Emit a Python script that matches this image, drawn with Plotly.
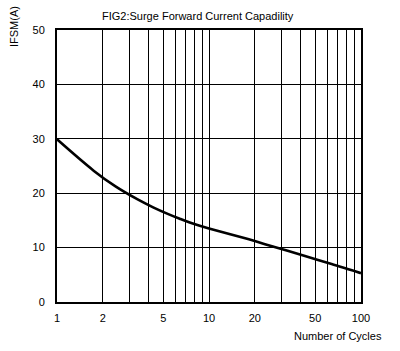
import plotly.graph_objects as go

cycles = [1, 1.75, 2.44, 3.37, 4.29, 5.35, 6.42, 7.47, 8.69, 10.0, 17.3, 24.3, 32.9, 42.8, 53.5, 64.1, 73.1, 86.0, 100]
ifsm = [29.9, 24.1, 21.2, 18.9, 17.4, 16.2, 15.3, 14.6, 14.0, 13.5, 11.7, 10.5, 9.4, 8.45, 7.65, 7.0, 6.5, 5.9, 5.3]

grid_vals = [1, 2, 3, 4, 5, 6, 7, 8, 9, 10, 20, 30, 40, 50, 60, 70, 80, 90, 100]
grid_text = ['1', '2', '', '', '5', '', '', '', '', '10', '20', '', '', '50', '', '', '', '', '100']
y_ticks = [0, 10, 20, 30, 40, 50]

fig = go.Figure()
fig.add_trace(go.Scatter(x=cycles, y=ifsm, mode='lines',
                         line=dict(color='black', width=2.6, shape='spline', smoothing=1.0),
                         showlegend=False, hoverinfo='skip'))

font = dict(family='Liberation Sans, Arial, sans-serif', size=11, color='black')

L, R, T, B = 57, 39, 30, 49
fig.update_layout(
    width=400, height=351,
    margin=dict(l=L, r=R, t=T, b=B),
    paper_bgcolor='white', plot_bgcolor='white',
    font=font,
    xaxis=dict(type='log', range=[0, 2], tickvals=grid_vals, ticktext=grid_text,
               showgrid=True, gridcolor='black', gridwidth=1.3,
               showline=True, linecolor='black', linewidth=2, mirror=True,
               ticks='outside', ticklen=5, tickcolor='white', zeroline=False, tickfont=font),
    yaxis=dict(range=[0, 50], tickvals=y_ticks,
               showgrid=True, gridcolor='black', gridwidth=1.3,
               showline=True, linecolor='black', linewidth=2, mirror=True,
               ticks='outside', ticklen=8, tickcolor='white', zeroline=False, tickfont=font),
)

pw = 400 - L - R
ph = 351 - T - B
def px(xp):
    return (xp - L) / pw
def py(yp):
    return (351 - B - yp) / ph

fig.add_annotation(text='FIG2:Surge Forward Current Capadility', x=px(198), y=py(16),
                   xref='paper', yref='paper', xanchor='center', yanchor='middle',
                   showarrow=False, font=font)
fig.add_annotation(text='Number of Cycles', x=px(338), y=py(336),
                   xref='paper', yref='paper', xanchor='center', yanchor='middle',
                   showarrow=False, font=font)
fig.add_annotation(text='IFSM(A)', x=px(14), y=py(27), textangle=-90,
                   xref='paper', yref='paper', xanchor='center', yanchor='middle',
                   showarrow=False, font=font)

fig.write_html('out.html')
